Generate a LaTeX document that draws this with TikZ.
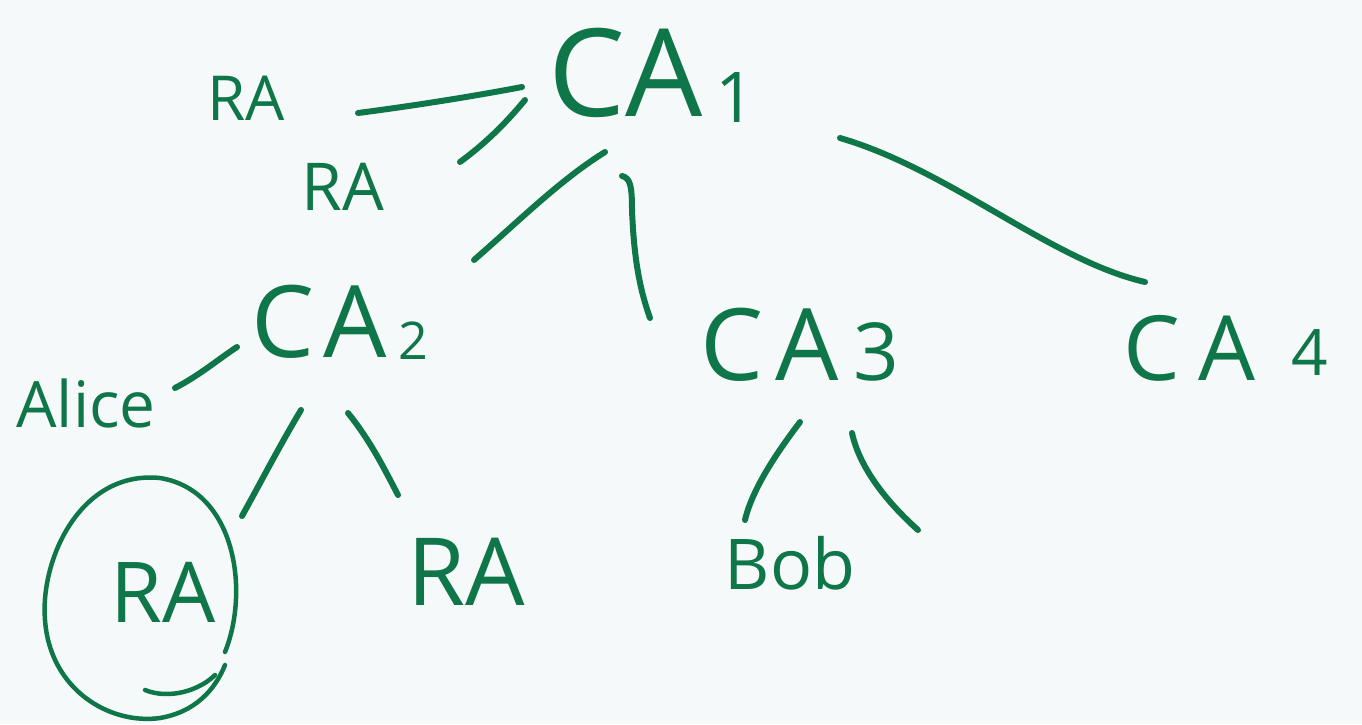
\documentclass[tikz,border=0pt]{standalone}
\usepackage{fontspec}
\setmainfont{Open Sans}
\definecolor{ink}{RGB}{14,118,72}
\definecolor{paper}{RGB}{246,249,249}
\newcommand{\fs}[1]{\fontsize{#1}{#1}\selectfont}
\begin{document}
\begin{tikzpicture}[x=1pt,y=-1pt,
  lbl/.style={text=ink,inner sep=0pt,anchor=center},
  edge/.style={draw=ink,line width=6pt,line cap=round}]
\fill[paper] (0,0) rectangle (1362,724);
\useasboundingbox (0,0) rectangle (1362,724);
% nodes
\node[lbl] (ca1) at (652,75) {\fs{122}CA\hspace{0.1em}\raisebox{-0.05em}{\fs{70}1}};
\node[lbl] (ra1) at (246,98) {\fs{62}RA};
\node[lbl] (ra2) at (343,187) {\fs{66}RA};
\node[lbl] (ca2) at (340,322) {\fs{100}C\hspace{0.08em}A\hspace{0.12em}\raisebox{-0.02em}{\fs{52}2}};
\node[lbl] (ca3) at (800,345) {\fs{100}C\hspace{0.12em}A\hspace{0.15em}\fs{80}3};
\node[lbl] (ca4) at (1226,348) {\fs{90}C\hspace{0.2em}A\hspace{0.4em}\raisebox{0.05em}{\fs{64}4}};
\node[lbl] (alice) at (86,403) {\fs{64}Alice};
\node[lbl] (ra3) at (163,592) {\fs{84}RA};
\node[lbl] (ra4) at (466,572) {\fs{94}RA};
\node[lbl] (bob) at (790,563) {\fs{70}Bob};
% circle around RA
\draw[edge,line width=4.5pt] (225,652) .. controls (250,590) and (235,490) .. (160,478)
  .. controls (80,470) and (40,560) .. (45,620)
  .. controls (50,690) and (110,725) .. (160,718)
  .. controls (195,712) and (215,690) .. (225,665);
\draw[edge,line width=4.5pt] (145,690) .. controls (170,700) and (200,690) .. (215,675);
% connectors
\coordinate (e1a) at (358,113); \coordinate (e1b) at (522,87);
\coordinate (e2a) at (460,162); \coordinate (e2b) at (525,100);
\coordinate (e3a) at (605,152); \coordinate (e3b) at (474,260);
\coordinate (e4a) at (622,176); \coordinate (e4b) at (650,318);
\coordinate (e5a) at (840,138); \coordinate (e5b) at (1145,282);
\coordinate (e6a) at (175,388); \coordinate (e6b) at (237,347);
\coordinate (e7a) at (301,410); \coordinate (e7b) at (242,516);
\coordinate (e8a) at (348,413); \coordinate (e8b) at (398,495);
\coordinate (e9a) at (800,422); \coordinate (e9b) at (745,520);
\coordinate (e10a) at (852,433); \coordinate (e10b) at (918,530);
\draw[edge] (e1a) .. controls (420,105) and (480,95) .. (e1b);
\draw[edge] (e2a) .. controls (490,140) and (510,118) .. (e2b);
\draw[edge] (e3a) .. controls (560,180) and (520,220) .. (e3b);
\draw[edge] (e4a) .. controls (630,178) and (632,185) .. (632,210) .. controls (634,260) and (640,290) .. (e4b);
\draw[edge] (e5a) .. controls (950,170) and (1050,260) .. (e5b);
\draw[edge] (e6a) .. controls (200,375) and (220,358) .. (e6b);
\draw[edge] (e7a) .. controls (280,445) and (262,480) .. (e7b);
\draw[edge] (e8a) .. controls (370,440) and (385,470) .. (e8b);
\draw[edge] (e9a) .. controls (775,455) and (752,490) .. (e9b);
\draw[edge] (e10a) .. controls (860,470) and (890,505) .. (e10b);
\end{tikzpicture}
\end{document}
